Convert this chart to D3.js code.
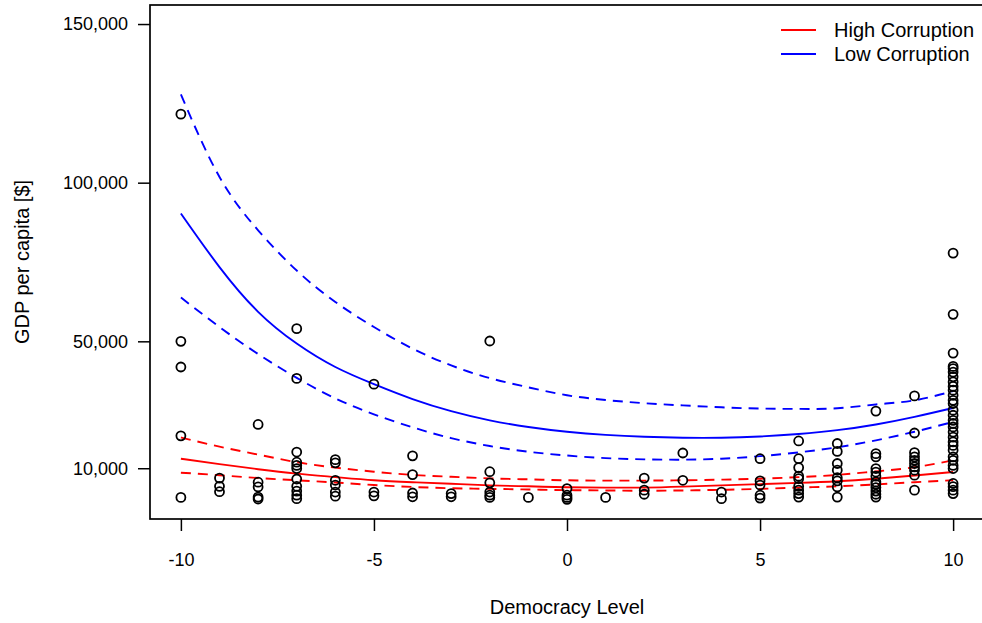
<!DOCTYPE html>
<html>
<head>
<meta charset="utf-8">
<script src="https://cdn.jsdelivr.net/npm/d3@7"></script>
<style>
  body { margin: 0; background: #fff; }
  svg { display: block; font-family: "Liberation Sans", Arial, sans-serif; }
</style>
</head>
<body>
<div id="chart"></div>
<script>
// democracy level of each column of points, and the GDP values (in $1000) seen there
const levels = [-10, -9, -8, -7, -6, -5, -4, -3, -2, -1, 0, 1, 2, 3, 4, 5, 6, 7, 8, 9, 10];
const gdpK = [
  [121.6, 50.0, 41.9, 20.2, 0.8],
  [6.9, 4.3, 2.6],
  [23.8, 5.6, 4.1, 0.9, 0.3],
  [54.0, 38.3, 15.1, 11.9, 10.9, 9.9, 6.6, 4.3, 2.8, 1.5, 0.4],
  [12.7, 11.7, 6.2, 4.7, 2.5, 1.2],
  [36.5, 2.5, 1.3],
  [13.9, 8.0, 2.2, 1.0],
  [2.0, 1.0],
  [50.1, 8.9, 5.4, 2.5, 1.5, 0.8],
  [0.8],
  [3.6, 1.5, 0.8, 0.2],
  [0.8],
  [6.9, 3.1, 1.8],
  [14.8, 6.2],
  [2.5, 0.4],
  [13.0, 6.0, 4.7, 1.5, 0.6],
  [18.6, 13.0, 10.2, 7.5, 6.7, 4.3, 3.1, 2.0, 0.9],
  [17.8, 15.3, 11.5, 9.4, 7.0, 6.0, 4.1, 0.9],
  [28.0, 14.6, 13.6, 9.9, 8.8, 7.5, 5.7, 4.9, 3.9, 2.8, 1.8, 0.9],
  [32.8, 21.1, 14.9, 13.6, 12.5, 11.5, 10.4, 9.4, 7.8, 3.1],
  [77.8, 58.5, 46.3, 42.1, 41.4, 40.3, 38.8, 37.2, 35.8, 34.6, 33.0, 31.4, 30.4, 28.3,
   26.7, 25.1, 24.1, 23.0, 21.4, 19.8, 18.3, 17.2, 15.7, 13.6, 12.5, 10.9, 9.9, 5.2, 4.2, 3.1, 2.0]
];

// fitted curves (in $1000) read at each democracy level
const hiFit   = [13.0, 11.3, 9.7, 8.3, 7.2, 6.2, 5.6, 5.1, 4.6, 4.3, 4.0, 3.9, 3.9, 4.2, 4.6, 5.0, 5.4, 5.9, 6.7, 7.7, 8.8];
const hiUpper = [19.7, 16.8, 14.3, 11.9, 10.2, 8.9, 7.9, 7.3, 6.8, 6.5, 6.2, 6.1, 6.1, 6.2, 6.4, 6.7, 7.2, 7.9, 9.0, 10.3, 12.5];
const hiLower = [8.6, 7.8, 6.9, 6.2, 5.5, 4.7, 4.1, 3.7, 3.5, 3.3, 3.1, 3.0, 2.9, 3.0, 3.2, 3.5, 3.9, 4.3, 4.9, 5.6, 6.2];
const loFit   = [90.3, 73.4, 59.3, 49.3, 41.9, 36.5, 31.8, 28.0, 25.1, 23.0, 21.5, 20.5, 19.9, 19.6, 19.6, 20.0, 20.8, 22.0, 23.8, 26.2, 29.0];
const loUpper = [127.8, 101.8, 85.0, 72.3, 62.4, 54.5, 47.7, 42.4, 38.4, 35.5, 33.0, 31.5, 30.5, 29.8, 29.2, 28.8, 28.7, 28.9, 30.1, 31.4, 34.3];
const loLower = [63.8, 54.5, 46.0, 38.5, 32.0, 27.0, 22.9, 19.5, 17.0, 15.2, 14.0, 13.2, 12.8, 12.7, 13.0, 13.8, 15.0, 16.6, 18.8, 21.5, 24.6];

const xTicks = [-10, -5, 0, 5, 10];
const yTicks = [10000, 50000, 100000, 150000];
const legendLabels = ["High Corruption", "Low Corruption"];
const legendColors = ["#ff0000", "#0000ff"];

const W = 982, H = 623;
const box = { left: 150, right: 984, top: 5, bottom: 519 };

const svg = d3.select("#chart").append("svg")
  .attr("width", W)
  .attr("height", H);

const x = d3.scaleLinear().domain([-10.8, 10.8]).range([box.left, box.right]);
const y = d3.scaleLinear().domain([-6000, 156000]).range([box.bottom, box.top]);

// curves
const line = d3.line()
  .x((d, i) => x(levels[i]))
  .y(d => y(d * 1000))
  .curve(d3.curveNatural);

const curves = [
  { v: hiFit, c: legendColors[0], dash: null },
  { v: hiUpper, c: legendColors[0], dash: "10,7" },
  { v: hiLower, c: legendColors[0], dash: "10,7" },
  { v: loFit, c: legendColors[1], dash: null },
  { v: loUpper, c: legendColors[1], dash: "10,7" },
  { v: loLower, c: legendColors[1], dash: "10,7" }
];

svg.append("g").selectAll("path")
  .data(curves)
  .enter()
  .append("path")
  .attr("d", d => line(d.v))
  .attr("fill", "none")
  .attr("stroke", d => d.c)
  .attr("stroke-width", 1.9)
  .attr("stroke-dasharray", d => d.dash);

// points
const pts = [];
levels.forEach((lv, i) => gdpK[i].forEach(g => pts.push({ lv: lv, g: g * 1000 })));

svg.append("g").selectAll("circle")
  .data(pts)
  .enter()
  .append("circle")
  .attr("cx", d => x(d.lv))
  .attr("cy", d => y(d.g))
  .attr("r", 4.5)
  .attr("fill", "none")
  .attr("stroke", "#000")
  .attr("stroke-width", 1.8);

// frame
svg.append("rect")
  .attr("x", box.left)
  .attr("y", box.top)
  .attr("width", box.right - box.left)
  .attr("height", box.bottom - box.top)
  .attr("fill", "none")
  .attr("stroke", "#000")
  .attr("stroke-width", 1.7);

// axes
const xAxis = svg.append("g")
  .attr("transform", `translate(0,${box.bottom})`)
  .call(d3.axisBottom(x).tickValues(xTicks).tickSize(12).tickPadding(22).tickFormat(d => String(d)));
const yAxis = svg.append("g")
  .attr("transform", `translate(${box.left},0)`)
  .call(d3.axisLeft(y).tickValues(yTicks).tickSize(12).tickPadding(10).tickFormat(d3.format(",")));

[xAxis, yAxis].forEach(a => {
  a.select(".domain").remove();
  a.selectAll("line").attr("stroke", "#000").attr("stroke-width", 1.5);
  a.selectAll("text")
    .attr("fill", "#000")
    .style("font-family", "'Liberation Sans', Arial, sans-serif")
    .style("font-size", "18px");
});

svg.append("text")
  .attr("x", (box.left + 984) / 2)
  .attr("y", 614)
  .attr("text-anchor", "middle")
  .style("font-size", "20px")
  .text("Democracy Level");

svg.append("text")
  .attr("transform", `translate(29,${(box.top + box.bottom) / 2}) rotate(-90)`)
  .attr("text-anchor", "middle")
  .style("font-size", "20px")
  .text("GDP per capita [$]");

// legend
const leg = svg.append("g");
legendLabels.forEach((lab, i) => {
  const ly = 30 + i * 24;
  leg.append("line")
    .attr("x1", 781).attr("x2", 816)
    .attr("y1", ly).attr("y2", ly)
    .attr("stroke", legendColors[i])
    .attr("stroke-width", 1.8);
  leg.append("text")
    .attr("x", 834)
    .attr("y", ly)
    .attr("dy", "0.35em")
    .style("font-size", "20px")
    .text(lab);
});
</script>
</body>
</html>
